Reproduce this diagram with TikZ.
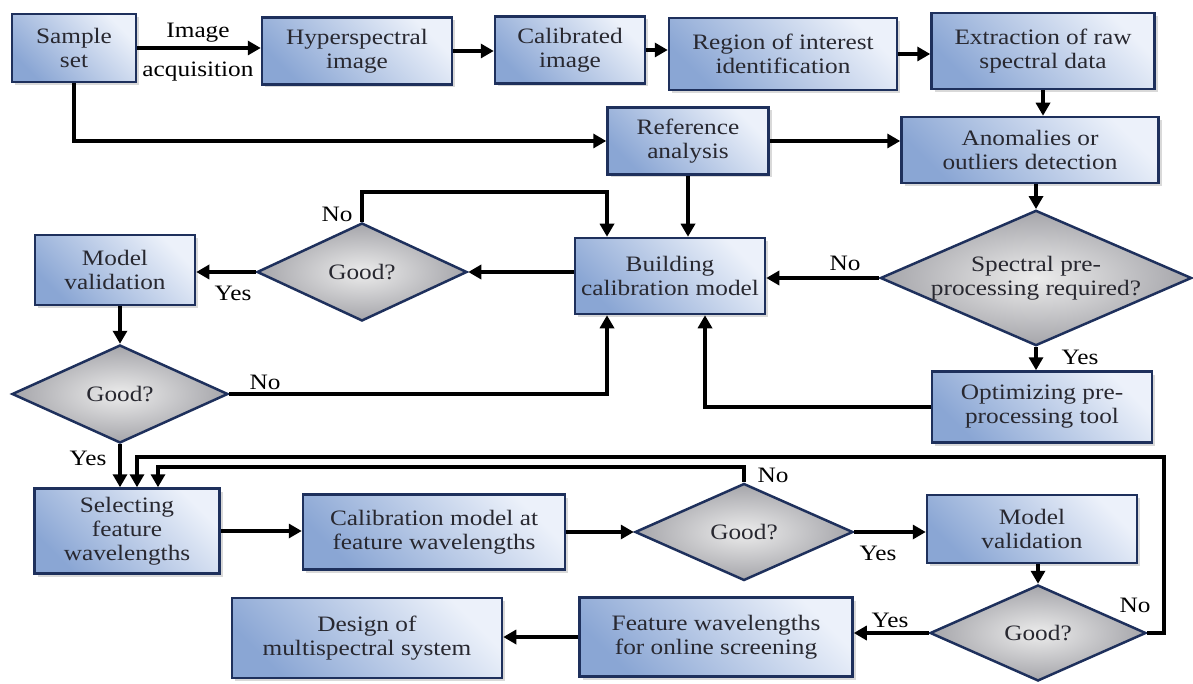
\documentclass[tikz,border=0pt]{standalone}
\usepackage{fontspec}
\setmainfont{Liberation Serif}[FakeStretch=1.15]
\usepackage{xcolor}
\usepackage{tikz}
\usetikzlibrary{shapes.geometric, arrows.meta, shadows, positioning}

\definecolor{rim}{RGB}{30,48,92}
\definecolor{boxpale}{RGB}{236,241,250}
\definecolor{boxdeep}{RGB}{138,166,212}
\definecolor{qpale}{RGB}{236,236,236}
\definecolor{qdeep}{RGB}{165,165,170}
\definecolor{ink}{RGB}{40,40,48}

\tikzset{
  stage/.style={rectangle, draw=rim, line width=2.5pt, top color=boxpale,
    bottom color=boxdeep, shading angle=-45, align=center, inner sep=0pt,
    text=ink, drop shadow={shadow xshift=3pt, shadow yshift=-3pt, opacity=0.3}},
  query/.style={diamond, draw=rim, line width=2.5pt, inner color=qpale,
    outer color=qdeep, align=center, inner sep=0pt, shape aspect=2.3, text=ink},
  flow/.style={draw=black, line width=4pt, -{Triangle[length=13pt,width=14pt]}},
  tag/.style={inner sep=0pt, text=black}
}

\begin{document}
\begin{tikzpicture}[x=1pt, y=-1pt, font=\fontsize{22}{24}\selectfont]
    \useasboundingbox (0,0) rectangle (1193,684);

    % Acquisition row
    \node[stage, minimum width=124pt, minimum height=68pt] (sample) at (74,48) {Sample\\set};
    \node[stage, minimum width=190pt, minimum height=67pt] (hyper) at (357,51) {Hyperspectral\\image};
    \node[stage, minimum width=150pt, minimum height=67pt] (calib) at (570,50) {Calibrated\\image};
    \node[stage, minimum width=228pt, minimum height=72pt] (roi) at (783,54) {Region of interest\\identification};
    \node[stage, minimum width=223pt, minimum height=76pt] (extract) at (1043,51) {Extraction of raw\\spectral data};
    \node[stage, minimum width=161pt, minimum height=67pt] (refer) at (688,141) {Reference\\analysis};
    \node[stage, minimum width=257pt, minimum height=66pt] (anomaly) at (1030,150) {Anomalies or\\outliers detection};

    % Calibration
    \node[query, minimum width=304pt, minimum height=132pt] (prep) at (1036,278) {Spectral pre-\\processing required?};
    \node[stage, minimum width=190pt, minimum height=76pt] (build) at (670,276) {Building\\calibration model};
    \node[stage, minimum width=220pt, minimum height=71pt] (optim) at (1042,407) {Optimizing pre-\\processing tool};
    \node[query, minimum width=210pt, minimum height=98pt] (goodA) at (362,272) {Good?};
    \node[stage, minimum width=160pt, minimum height=70pt] (validA) at (115,270) {Model\\validation};
    \node[query, minimum width=216pt, minimum height=98pt] (goodB) at (120,394) {Good?};

    % Feature wavelengths
    \node[stage, minimum width=185pt, minimum height=85pt] (select) at (127,531) {Selecting\\feature\\wavelengths};
    \node[stage, minimum width=262pt, minimum height=75pt] (calfeat) at (434,532) {Calibration model at\\feature wavelengths};
    \node[query, minimum width=218pt, minimum height=97pt] (goodC) at (744,532) {Good?};
    \node[stage, minimum width=210pt, minimum height=68pt] (validB) at (1032,529) {Model\\validation};
    \node[query, minimum width=216pt, minimum height=96pt] (goodD) at (1038,633) {Good?};
    \node[stage, minimum width=273pt, minimum height=79pt] (screen) at (716,637) {Feature wavelengths\\for online screening};
    \node[stage, minimum width=270pt, minimum height=80pt] (design) at (367,638) {Design of\\multispectral system};

    % Labels
    \node[tag] (acqA) at (198,33) {Image};
    \node[tag] (acqB) at (198,72) {acquisition};
    \node[tag] (noA) at (337,214) {No};
    \node[tag] (yesA) at (233,293) {Yes};
    \node[tag] (noB) at (265,382) {No};
    \node[tag] (yesB) at (88,458) {Yes};
    \node[tag] (noC) at (845,263) {No};
    \node[tag] (yesC) at (1080,357) {Yes};
    \node[tag] (noD) at (773,475) {No};
    \node[tag] (yesD) at (878,553) {Yes};
    \node[tag] (yesE) at (890,620) {Yes};
    \node[tag] (noE) at (1135,605) {No};

    % Top row
    \draw[flow] (sample.east) -- (sample.east -| hyper.west);
    \draw[flow] (hyper.east) -- (hyper.east -| calib.west);
    \draw[flow] (calib.east) -- (calib.east -| roi.west);
    \draw[flow] (roi.east) -- (roi.east -| extract.west);
    \draw[flow] (extract.south) -- (extract.south |- anomaly.north);
    \draw[flow] (sample.south) |- (refer.west);
    \draw[flow] (refer.east) -- (refer.east -| anomaly.west);
    \draw[flow] (prep.north |- anomaly.south) -- (prep.north);

    % Model building
    \draw[flow] (refer.south) -- (refer.south |- build.north);
    \draw[flow] (prep.west) -- (prep.west -| build.east);
    \draw[flow] (prep.south) -- (prep.south |- optim.north);
    \draw[flow] (optim.west) -| ([xshift=35pt]build.south);
    \draw[flow] (build.west |- goodA.east) -- (goodA.east);
    \draw[flow] (goodA.west) -- (goodA.west -| validA.east);
    \draw[flow] (goodA.north) -- ++(0,-30) -| ([xshift=-63pt]build.north);
    \draw[flow] (goodB.north |- validA.south) -- (goodB.north);
    \draw[flow] (goodB.east) -| ([xshift=-63pt]build.south);
    \draw[flow] (goodB.south) -- (goodB.south |- select.north);

    % Feature selection
    \draw[flow] (select.east) -- (select.east -| calfeat.west);
    \draw[flow] (calfeat.east) -- (goodC.west);
    \draw[flow] (goodC.east) -- (goodC.east -| validB.west);
    \draw[flow] (goodC.north) -- ++(0,-15) -| ([xshift=31pt]select.north);
    \draw[flow] (goodD.north |- validB.south) -- (goodD.north);
    \draw[flow] (goodD.west) -- (goodD.west -| screen.east);
    \draw[flow] (screen.west) -- (screen.west -| design.east);
    \draw[flow] (goodD.east) -- ++(17,0) |- ([xshift=10pt,yshift=30pt]select.north)
      -- ([xshift=10pt]select.north);
\end{tikzpicture}
\end{document}
